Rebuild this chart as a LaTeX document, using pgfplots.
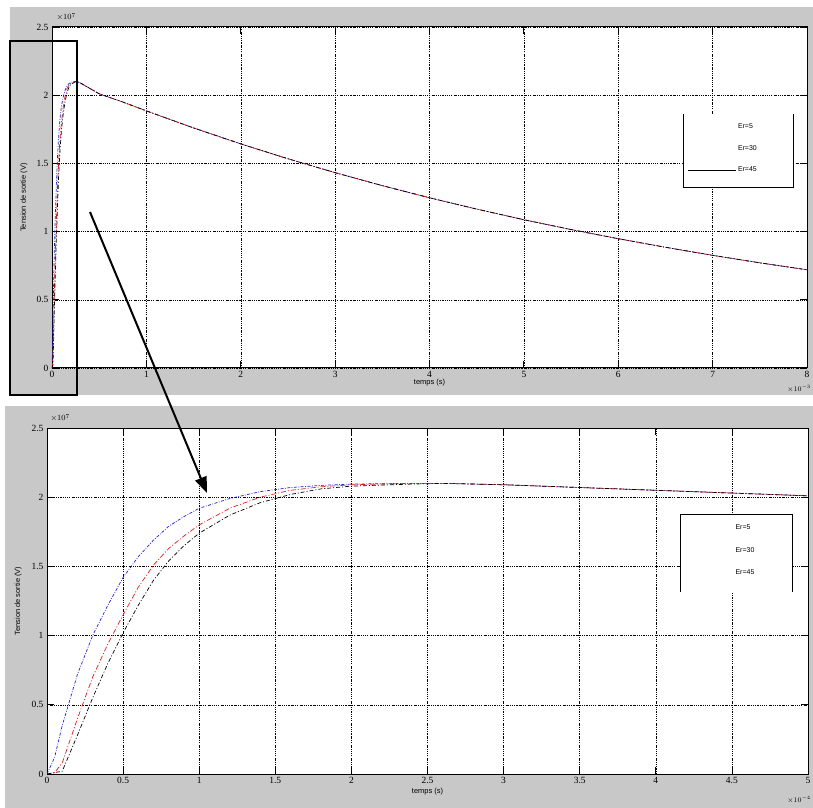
\documentclass[border=0pt]{standalone}
\usepackage{fontspec}
\setmainfont{Liberation Sans}
\newfontfamily\tickfont{Liberation Serif}
\usepackage{pgfplots}
\pgfplotsset{compat=1.18}
\usetikzlibrary{arrows.meta}
\definecolor{figgray}{RGB}{200,200,200}
\definecolor{mblue}{RGB}{30,30,210}
\definecolor{mred}{RGB}{225,30,30}
\pgfplotsset{
 mstyle/.style={
  scale only axis, axis background/.style={fill=white},
  xmajorgrids, ymajorgrids,
  grid style={black, line width=0.5pt, dash pattern=on 1.5pt off 1.2pt on 0.5pt off 1.2pt},
  tick align=inside, major tick length=7bp, tick style={black, line width=0.8pt},
  axis line style={line width=1pt},
  /pgf/number format/assume math mode=true,
  tick label style={font=\tickfont\fontsize{9.5}{10}\selectfont},
  label style={font=\fontsize{7.5}{8}\selectfont},
  ymin=0, ymax=2.5, ytick={0,0.5,1,1.5,2,2.5},
  yticklabels={0,0.5,1,1.5,2,2.5},
  legend image code/.code={\draw (0bp,0bp) -- (48bp,0bp);},
  legend cell align=left,
 },
 sblue/.style={mblue, line width=0.7pt, dash pattern=on 3pt off 1.5pt on 0.8pt off 1.5pt},
 sred/.style={mred, line width=0.7pt, dash pattern=on 5pt off 2pt on 1pt off 2pt},
 sblack/.style={black, line width=0.7pt, dash pattern=on 4pt off 2pt on 1pt off 2pt},
}
\begin{document}
\begin{tikzpicture}
\useasboundingbox (0,0) rectangle (813bp,808bp);
\fill[figgray] (10bp,413bp) rectangle (813bp,801bp);
\fill[figgray] (5bp,0bp) rectangle (813bp,402bp);
% ---------- top axis ----------
\begin{axis}[mstyle, at={(52bp,440bp)}, anchor=south west, width=755bp, height=341bp,
  xmin=0, xmax=8, xtick={0,1,2,3,4,5,6,7,8},
  xlabel={temps (s)}, ylabel={Tension de sortie (V)},
  xlabel style={at={(axis description cs:0.5,0)}, anchor=center, yshift=-15bp},
  ylabel style={at={(axis description cs:-0.037,0.5)}, anchor=center},
  legend style={at={(axis description cs:0.8358,0.7449)}, anchor=north west, draw=none, fill=none,
    font=\fontsize{7}{8}\selectfont, row sep=11bp, inner xsep=4bp, inner ysep=8bp}]
\addplot[sblue, forget plot] coordinates {(0,0)(0.005,0.12)(0.01,0.35)(0.02,0.72)(0.03,1.0)(0.04,1.22)(0.05,1.42)(0.06,1.57)(0.07,1.69)(0.08,1.79)(0.09,1.86)(0.1,1.92)(0.12,1.99)(0.14,2.04)(0.16,2.07)(0.18,2.085)(0.2,2.095)(0.24,2.1)(0.26,2.1)(0.3,2.09)(0.35,2.07)(0.4,2.05)(0.45,2.03)(0.5,2.01)(0.75,1.95)(1,1.885)(1.5,1.76)(2,1.643)(2.5,1.534)(3,1.432)(3.5,1.337)(4,1.248)(4.5,1.165)(5,1.087)(5.5,1.015)(6,0.948)(6.5,0.885)(7,0.826)(7.5,0.771)(8,0.72)};
\addplot[sred, forget plot] coordinates {(0,0)(0.005,0.01)(0.01,0.08)(0.02,0.4)(0.03,0.7)(0.04,0.94)(0.05,1.15)(0.06,1.35)(0.07,1.51)(0.08,1.63)(0.09,1.72)(0.1,1.8)(0.12,1.92)(0.14,2.0)(0.16,2.05)(0.18,2.075)(0.2,2.09)(0.24,2.1)(0.26,2.1)(0.3,2.09)(0.35,2.07)(0.4,2.05)(0.45,2.03)(0.5,2.01)(0.75,1.95)(1,1.885)(1.5,1.76)(2,1.643)(2.5,1.534)(3,1.432)(3.5,1.337)(4,1.248)(4.5,1.165)(5,1.087)(5.5,1.015)(6,0.948)(6.5,0.885)(7,0.826)(7.5,0.771)(8,0.72)};
\addplot[sblack, forget plot] coordinates {(0,0)(0.01,0.02)(0.02,0.28)(0.03,0.55)(0.04,0.8)(0.05,1.02)(0.06,1.22)(0.07,1.4)(0.08,1.54)(0.09,1.65)(0.1,1.74)(0.12,1.87)(0.14,1.96)(0.16,2.02)(0.18,2.06)(0.2,2.08)(0.24,2.095)(0.26,2.1)(0.3,2.09)(0.35,2.07)(0.4,2.05)(0.45,2.03)(0.5,2.01)(0.75,1.95)(1,1.885)(1.5,1.76)(2,1.643)(2.5,1.534)(3,1.432)(3.5,1.337)(4,1.248)(4.5,1.165)(5,1.087)(5.5,1.015)(6,0.948)(6.5,0.885)(7,0.826)(7.5,0.771)(8,0.72)};
\fill[white] (axis description cs:0.8358,0.7449) rectangle (axis description cs:0.9815,0.5279);
\draw[line width=1pt] (axis description cs:0.8358,0.7449) -- (axis description cs:0.8358,0.5279) -- (axis description cs:0.9815,0.5279) -- (axis description cs:0.9815,0.7449);
\addlegendimage{white}
\addlegendimage{white}
\addlegendimage{black, solid, line width=0.8pt}
\legend{Er=5,Er=30,Er=45}
\end{axis}
% ---------- bottom axis ----------
\begin{axis}[mstyle, at={(47bp,34bp)}, anchor=south west, width=761bp, height=346bp,
  xmin=0, xmax=5, xtick={0,0.5,1,1.5,2,2.5,3,3.5,4,4.5,5},
  xticklabels={0,0.5,1,1.5,2,2.5,3,3.5,4,4.5,5},
  xlabel={temps (s)}, ylabel={Tension de sortie (V)},
  xlabel style={at={(axis description cs:0.5,0)}, anchor=center, yshift=-18bp},
  ylabel style={at={(axis description cs:-0.038,0.5)}, anchor=center},
  legend style={at={(axis description cs:0.8331,0.7486)}, anchor=north west, draw=none, fill=none,
    font=\fontsize{7}{8}\selectfont, row sep=12bp, inner xsep=4bp, inner ysep=8bp}]
\addplot[sblue, forget plot] coordinates {(0,0)(0.05,0.12)(0.1,0.35)(0.2,0.72)(0.3,1.0)(0.4,1.22)(0.5,1.42)(0.6,1.57)(0.7,1.69)(0.8,1.79)(0.9,1.86)(1,1.92)(1.2,1.99)(1.4,2.04)(1.6,2.07)(1.8,2.085)(2,2.095)(2.4,2.1)(2.6,2.1)(3,2.09)(3.5,2.07)(4,2.05)(4.5,2.03)(5,2.01)};
\addplot[sred, forget plot] coordinates {(0,0)(0.05,0.01)(0.1,0.08)(0.2,0.4)(0.3,0.7)(0.4,0.94)(0.5,1.15)(0.6,1.35)(0.7,1.51)(0.8,1.63)(0.9,1.72)(1,1.8)(1.2,1.92)(1.4,2.0)(1.6,2.05)(1.8,2.075)(2,2.09)(2.4,2.1)(2.6,2.1)(3,2.09)(3.5,2.07)(4,2.05)(4.5,2.03)(5,2.01)};
\addplot[sblack, forget plot] coordinates {(0,0)(0.1,0.02)(0.2,0.28)(0.3,0.55)(0.4,0.8)(0.5,1.02)(0.6,1.22)(0.7,1.4)(0.8,1.54)(0.9,1.65)(1,1.74)(1.2,1.87)(1.4,1.96)(1.6,2.02)(1.8,2.06)(2,2.08)(2.4,2.095)(2.6,2.1)(3,2.09)(3.5,2.07)(4,2.05)(4.5,2.03)(5,2.01)};
\fill[white] (axis description cs:0.8331,0.7486) rectangle (axis description cs:0.979,0.526);
\draw[line width=1pt] (axis description cs:0.8331,0.526) -- (axis description cs:0.8331,0.7486) -- (axis description cs:0.979,0.7486) -- (axis description cs:0.979,0.526);
\addlegendimage{white}
\addlegendimage{white}
\addlegendimage{white}
\legend{Er=5,Er=30,Er=45}
\end{axis}
% ---------- multipliers ----------
\node[font=\fontsize{8}{9}\selectfont, anchor=west] at (53bp,791bp) {$\times10^{7}$};
\node[font=\fontsize{8}{9}\selectfont, anchor=west] at (47bp,390bp) {$\times10^{7}$};
\node[font=\fontsize{7}{8}\selectfont, anchor=east, inner sep=1bp] at (812bp,419bp) {$\times10^{-3}$};
\node[font=\fontsize{7}{8}\selectfont, anchor=east, inner sep=1bp] at (812bp,8bp) {$\times10^{-4}$};
% ---------- zoom annotation ----------
\draw[line width=2bp] (10bp,767bp) rectangle (77bp,413bp);
\draw[line width=2bp, -{Triangle[length=16bp,width=12bp]}] (90bp,596bp) -- (207bp,315bp);
\end{tikzpicture}
\end{document}
